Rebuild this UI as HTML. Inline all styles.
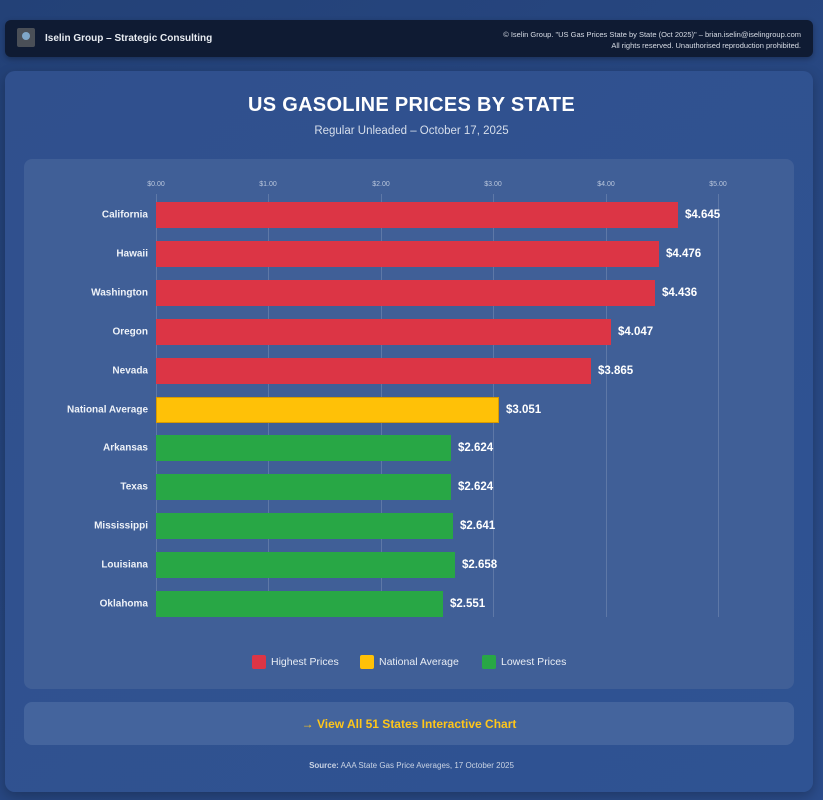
<!DOCTYPE html>
<html><head><meta charset="utf-8"><style>
*{margin:0;padding:0;box-sizing:border-box}
body{width:823px;height:800px;background:linear-gradient(135deg,#234177,#2b4c8a);font-family:"Liberation Sans",sans-serif;position:relative;overflow:hidden;color:#fff}
.hdr{position:absolute;left:5px;top:20px;width:808px;height:37px;background:#0f1b33;border-radius:6px;box-shadow:0 2px 6px rgba(0,0,0,.3)}
.logo{position:absolute;left:12px;top:8px;width:18px;height:19px;background:#4a4f57;border-radius:2px}
.logo:after{content:"";position:absolute;left:5px;top:4px;width:8px;height:8px;border-radius:50%;background:#7fa6c8}
.hdr .t{position:absolute;left:40px;top:13px;font-size:10px;font-weight:bold;color:#e8ecf2}
.hdr .r{position:absolute;right:12px;top:9px;font-size:7.5px;text-align:right;line-height:11px;color:#d8dde6}
.card{position:absolute;left:5px;top:71px;width:808px;height:721px;background:linear-gradient(135deg,#30508d,#2f5393);border-radius:10px;box-shadow:0 4px 12px rgba(0,0,0,.25)}
h1{position:absolute;top:94px;width:823px;text-align:center;font-size:20px;font-weight:bold;letter-spacing:.3px}
.sub{position:absolute;top:125px;width:823px;text-align:center;font-size:11.5px;color:#d6deeb}
.panel{position:absolute;left:24px;top:159px;width:770px;height:530px;background:#405f97;border-radius:8px}
.tick{position:absolute;top:181px;font-size:7px;color:#b9c6dc;transform:translateX(-50%)}
.grid{position:absolute;top:194px;height:423px;width:1px;background:rgba(255,255,255,.16)}
.lab{position:absolute;right:675px;font-size:10px;font-weight:bold;color:#eef2f8;transform:translateY(-50%)}
.bar{position:absolute;left:156px;height:26px}
.val{position:absolute;font-size:11.5px;font-weight:bold;transform:translateY(-50%)}
.leg{position:absolute;top:655px;font-size:10.5px;color:#e8edf5}
.sw{display:inline-block;width:14px;height:14px;border-radius:2px;vertical-align:middle;margin-right:5px}
.btn{position:absolute;left:24px;top:702px;width:770px;height:43px;background:#44649d;border-radius:8px;text-align:center;line-height:45px;color:#ffc61a;font-size:12px;font-weight:bold}
.src{position:absolute;top:761px;width:823px;text-align:center;font-size:8px;color:#c9d3e4}
</style></head><body>
<div class="hdr"><div class="logo"></div><div class="t">Iselin Group – Strategic Consulting</div>
<div class="r">© Iselin Group. "US Gas Prices State by State (Oct 2025)" – brian.iselin@iselingroup.com<br>All rights reserved. Unauthorised reproduction prohibited.</div></div>
<div class="card"></div>
<h1>US GASOLINE PRICES BY STATE</h1>
<div class="sub">Regular Unleaded – October 17, 2025</div>
<div class="panel"></div>
<div class="tick" style="left:156px">$0.00</div><div class="tick" style="left:268px">$1.00</div><div class="tick" style="left:381px">$2.00</div><div class="tick" style="left:493px">$3.00</div><div class="tick" style="left:606px">$4.00</div><div class="tick" style="left:718px">$5.00</div>
<div class="grid" style="left:156px"></div><div class="grid" style="left:268px"></div><div class="grid" style="left:381px"></div><div class="grid" style="left:493px"></div><div class="grid" style="left:606px"></div><div class="grid" style="left:718px"></div>

<div class="lab" style="top:215px">California</div><div class="bar" style="top:202px;width:522px;background:#dc3545"></div><div class="val" style="top:215px;left:685px">$4.645</div>
<div class="lab" style="top:254px">Hawaii</div><div class="bar" style="top:241px;width:503px;background:#dc3545"></div><div class="val" style="top:254px;left:666px">$4.476</div>
<div class="lab" style="top:293px">Washington</div><div class="bar" style="top:280px;width:499px;background:#dc3545"></div><div class="val" style="top:293px;left:662px">$4.436</div>
<div class="lab" style="top:332px">Oregon</div><div class="bar" style="top:319px;width:455px;background:#dc3545"></div><div class="val" style="top:332px;left:618px">$4.047</div>
<div class="lab" style="top:371px">Nevada</div><div class="bar" style="top:358px;width:435px;background:#dc3545"></div><div class="val" style="top:371px;left:598px">$3.865</div>
<div class="lab" style="top:410px">National Average</div><div class="bar" style="top:397px;width:343px;background:#ffc107;border:1px solid #d99a00"></div><div class="val" style="top:410px;left:506px">$3.051</div>
<div class="lab" style="top:448px">Arkansas</div><div class="bar" style="top:435px;width:295px;background:#28a745"></div><div class="val" style="top:448px;left:458px">$2.624</div>
<div class="lab" style="top:487px">Texas</div><div class="bar" style="top:474px;width:295px;background:#28a745"></div><div class="val" style="top:487px;left:458px">$2.624</div>
<div class="lab" style="top:526px">Mississippi</div><div class="bar" style="top:513px;width:297px;background:#28a745"></div><div class="val" style="top:526px;left:460px">$2.641</div>
<div class="lab" style="top:565px">Louisiana</div><div class="bar" style="top:552px;width:299px;background:#28a745"></div><div class="val" style="top:565px;left:462px">$2.658</div>
<div class="lab" style="top:604px">Oklahoma</div><div class="bar" style="top:591px;width:287px;background:#28a745"></div><div class="val" style="top:604px;left:450px">$2.551</div>

<div class="leg" style="left:252px"><span class="sw" style="background:#dc3545"></span>Highest Prices</div>
<div class="leg" style="left:360px"><span class="sw" style="background:#ffc107"></span>National Average</div>
<div class="leg" style="left:482px"><span class="sw" style="background:#28a745"></span>Lowest Prices</div>
<div class="btn">→ View All 51 States Interactive Chart</div>
<div class="src"><b>Source:</b> AAA State Gas Price Averages, 17 October 2025</div>
</body></html>
